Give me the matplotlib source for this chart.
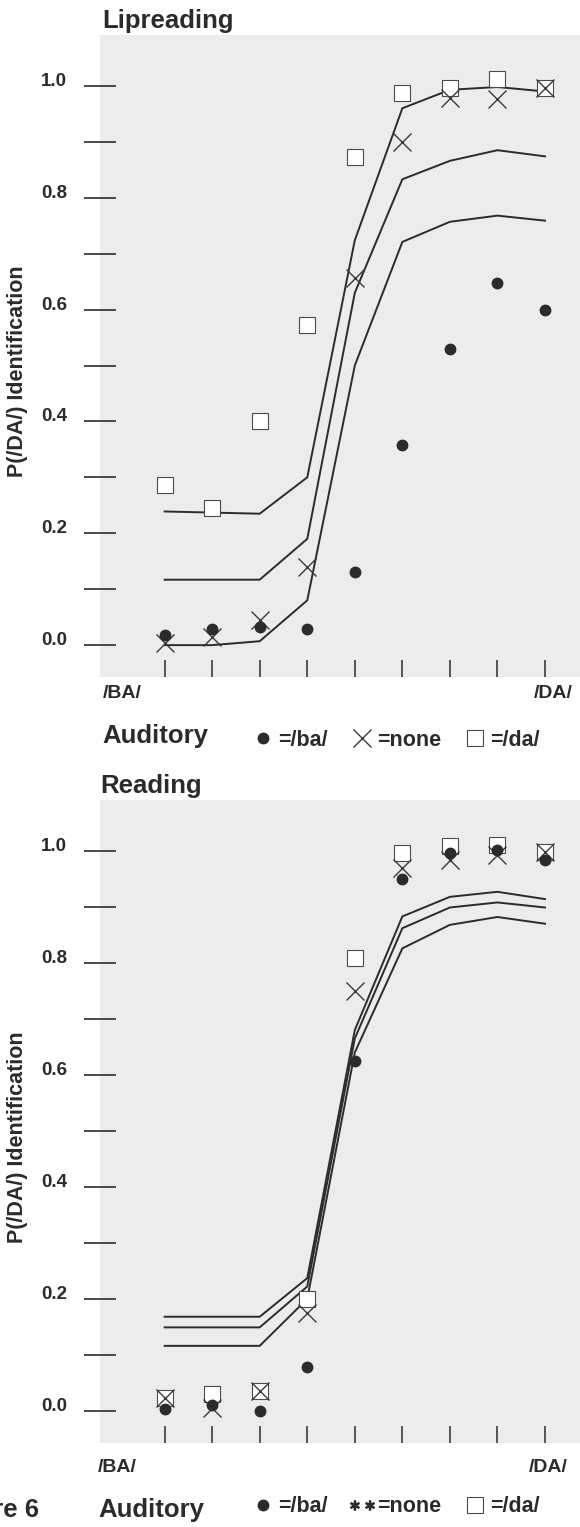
import numpy as np
import matplotlib.pyplot as plt
from matplotlib.lines import Line2D

plt.rcParams['font.family'] = ['Liberation Sans', 'DejaVu Sans']

# stimulus continuum /BA/ .. /DA/
levels = np.arange(1, 10)

# Lipreading panel (visual = lipreading, auditory = /ba/, none, /da/)
lip_ba = [0.018, 0.028, 0.032, 0.028, 0.13, 0.358, 0.53, 0.647, 0.60]
lip_none = [0.003, 0.014, 0.045, 0.139, 0.656, 0.90, 0.978, 0.976, 0.997]
lip_da = [0.287, 0.246, 0.40, 0.573, 0.873, 0.988, 0.997, 1.012, 0.997]
lip_fit_ba = [0.0, 0.0, 0.007, 0.08, 0.50, 0.721, 0.757, 0.768, 0.759]
lip_fit_none = [0.117, 0.117, 0.117, 0.19, 0.63, 0.833, 0.866, 0.885, 0.874]
lip_fit_da = [0.239, 0.237, 0.235, 0.30, 0.724, 0.96, 0.993, 0.998, 0.99]

# Reading panel
read_ba = [0.004, 0.011, 0.0, 0.078, 0.624, 0.949, 0.996, 1.002, 0.983]
read_none = [0.023, 0.005, 0.036, 0.175, 0.749, 0.969, 0.984, 0.993, 0.999]
read_da = [0.023, 0.030, 0.036, 0.20, 0.808, 0.997, 1.009, 1.011, 0.999]
read_fit_ba = [0.116, 0.116, 0.116, 0.20, 0.64, 0.826, 0.868, 0.882, 0.870]
read_fit_none = [0.149, 0.149, 0.149, 0.222, 0.665, 0.862, 0.899, 0.908, 0.899]
read_fit_da = [0.168, 0.168, 0.168, 0.237, 0.68, 0.883, 0.918, 0.927, 0.914]

major_y = [0.0, 0.2, 0.4, 0.6, 0.8, 1.0]
minor_y = [0.1, 0.3, 0.5, 0.7, 0.9]
legend_labels = ['=/ba/', '=none', '=/da/']
legend_labels_read = ['=/ba/', '=none', '=/da/']

ink = '#2b2b2b'
W, H = 580, 1527


def fx(px):
    return px / W


def fy(py):
    return 1 - py / H


def panel(ax, ba, none, da, fits):
    for f in fits:
        ax.plot(levels, f, color=ink, lw=1.4, zorder=2)
    h_da, = ax.plot(levels, da, ls='none', marker='s', ms=12, mfc='white',
                    mec='#4a4a4a', mew=0.8, zorder=3)
    h_none, = ax.plot(levels, none, ls='none', marker='x', ms=13,
                      mec='#3a3a3a', mew=1.0, zorder=4)
    h_ba, = ax.plot(levels, ba, ls='none', marker='o', ms=7.5, mfc=ink,
                    mec=ink, zorder=5)
    ax.set_facecolor('#ececec')
    ax.set_xlim(-0.359, 9.736)
    ax.set_ylim(-0.057, 1.091)
    for s in ax.spines.values():
        s.set_visible(False)
    ax.set_xticks(levels)
    ax.tick_params(axis='x', direction='in', length=12, width=1.1,
                   color=ink, labelbottom=False)
    ax.set_yticks(major_y)
    ax.set_yticklabels(['%.1f' % v for v in major_y])
    ax.set_yticks(minor_y, minor=True)
    ax.tick_params(axis='y', which='both', direction='inout', length=23,
                   width=1.2, color=ink, pad=12, labelsize=13.5,
                   labelcolor=ink)
    for lab in ax.get_yticklabels():
        lab.set_fontweight('bold')
        lab.set_va('baseline')
    ax.set_ylabel('P(/DA/) Identification', fontsize=15.5,
                  fontweight='bold', color=ink)
    ax.yaxis.set_label_coords(-0.15, 0.476)
    return h_ba, h_none, h_da


fig = plt.figure(figsize=(5.8, 15.27), dpi=100)
ax1 = fig.add_axes([fx(100), fy(677), fx(480), 642 / H])
ax2 = fig.add_axes([fx(100), fy(1442.7), fx(480), 642.7 / H])

hb1, hn1, hd1 = panel(ax1, lip_ba, lip_none, lip_da,
                      [lip_fit_ba, lip_fit_none, lip_fit_da])
hb2, hn2, hd2 = panel(ax2, read_ba, read_none, read_da,
                      [read_fit_ba, read_fit_none, read_fit_da])

title_kw = dict(fontsize=18.5, fontweight='bold', color=ink, va='baseline')
fig.text(fx(102), fy(28), 'Lipreading', **title_kw)
fig.text(fx(100), fy(793), 'Reading', **title_kw)

end_kw = dict(fontsize=14, fontweight='bold', color=ink, va='center')
fig.text(fx(103), fy(693), '/BA/', ha='left', **end_kw)
fig.text(fx(573), fy(693), '/DA/', ha='right', **end_kw)
fig.text(fx(98), fy(1468), '/BA/', ha='left', **end_kw)
fig.text(fx(568), fy(1468), '/DA/', ha='right', **end_kw)

fig.text(fx(102), fy(743), 'Auditory', **title_kw)
fig.text(fx(98), fy(1517), 'Auditory', **title_kw)
# the figure number is cropped at the left edge in the original
fig.text(fx(39), fy(1517), 'Figure 6', ha='right', **title_kw)

leg_kw = dict(loc='center left', bbox_transform=fig.transFigure, ncol=3,
              frameon=False, handlelength=0.8, handletextpad=0.3,
              columnspacing=1.2, borderpad=0, borderaxespad=0,
              labelcolor=ink, prop=dict(size=15.5, weight='bold'))
ax1.legend([hb1, hn1, hd1], legend_labels,
           bbox_to_anchor=(fx(254), fy(740)), **leg_kw)
stars = Line2D([], [], ls='none', marker=r'$\ast\ast$', ms=17, color=ink)
ax2.legend([hb2, stars, hd2], legend_labels_read,
           bbox_to_anchor=(fx(254), fy(1507)), **leg_kw)

fig.savefig('out.png', dpi=100)
